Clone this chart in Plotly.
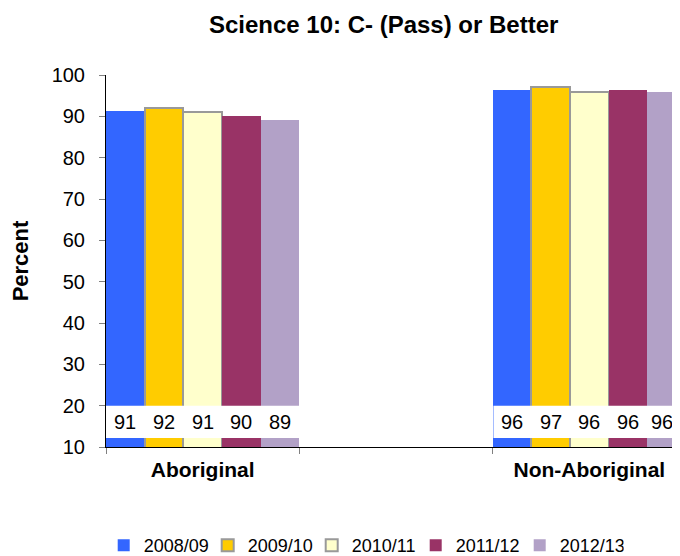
import plotly.graph_objects as go

categories = ["Aboriginal", " ", "Non-Aboriginal"]
series_names = ["2008/09", "2009/10", "2010/11", "2011/12", "2012/13"]
aboriginal = [91.4, 92.0, 91.1, 90.2, 89.0]
non_aboriginal = [96.3, 97.0, 96.0, 96.3, 95.9]
aboriginal_labels = ["91", "92", "91", "90", "89"]
non_aboriginal_labels = ["96", "97", "96", "96", "96"]
y_ticks = [10, 20, 30, 40, 50, 60, 70, 80, 90, 100]

colors = ["#3366FF", "#FFCC00", "#FFFFCC", "#993366", "#B2A1C7"]
border_colors = ["#3366FF", "#999999", "#999999", "#993366", "#B2A1C7"]
border_widths = [0, 2, 2, 0, 0]

FONT = "Liberation Sans, Arial, sans-serif"

# page body has an 8px margin, so the figure is sized to the remaining window
W, H = 672, 548

fig = go.Figure()
for i, name in enumerate(series_names):
    fig.add_trace(go.Bar(
        x=categories,
        y=[aboriginal[i], None, non_aboriginal[i]],
        name=name,
        marker=dict(color=colors[i], line=dict(color=border_colors[i], width=border_widths[i])),
        hoverinfo="skip",
    ))

n = len(series_names)
bar_w = 1.0 / n
shapes = []
annotations = []
for gi, (vals, labels) in enumerate([(aboriginal, aboriginal_labels), (non_aboriginal, non_aboriginal_labels)]):
    center = 0 if gi == 0 else 2
    x0 = center - 0.5 - (0.006 if gi == 0 else -0.004)
    shapes.append(dict(type="rect", xref="x", yref="y", x0=x0, x1=center + 0.5,
                       y0=12.2, y1=20, fillcolor="white", line=dict(width=0), layer="above"))
    for i, lab in enumerate(labels):
        last = (gi == 1 and i == n - 1)
        annotations.append(dict(x=center - 0.5 + bar_w * (i + 0.5), y=16, xref="x", yref="y",
                                text=lab, showarrow=False, yanchor="middle",
                                xshift=-5 if last else 0,
                                font=dict(size=20, color="black", family=FONT)))

fig.update_layout(
    width=W, height=H,
    margin=dict(l=98, r=0, t=67, b=109, autoexpand=False),
    paper_bgcolor="white", plot_bgcolor="white",
    barmode="group", bargap=0, bargroupgap=0,
    font=dict(family=FONT, color="black"),
    title=dict(text="<b>Science 10: C- (Pass) or Better</b>", x=0.559, xanchor="center",
               y=1 - 17 / H, yanchor="middle", yref="container",
               font=dict(size=24, color="black", family=FONT)),
    showlegend=True,
    legend=dict(orientation="h", x=-0.004, xanchor="left", y=-0.265, yanchor="middle",
                font=dict(size=18, color="black", family=FONT),
                itemwidth=30, entrywidth=59, entrywidthmode="pixels",
                traceorder="normal", bgcolor="rgba(0,0,0,0)"),
    shapes=shapes,
    annotations=annotations,
)
fig.update_xaxes(
    type="category", categoryorder="array", categoryarray=categories,
    range=[-0.5, 2.5 - 6 / 193.5], tickson="boundaries", ticks="outside", ticklen=6,
    tickcolor="#808080", showline=True, linecolor="black", linewidth=1,
    showgrid=False, zeroline=False, automargin=False,
    tickfont=dict(size=21, color="black", family=FONT, weight="bold"),
    ticklabelstandoff=4,
)
fig.update_yaxes(
    range=[10, 100], tickvals=y_ticks, ticks="outside", ticklen=6, tickcolor="#808080",
    showline=True, linecolor="black", linewidth=1, showgrid=False, zeroline=False,
    automargin=False,
    tickfont=dict(size=20, color="black", family=FONT),
    ticklabelstandoff=10,
    title=dict(text="<b>Percent</b>", font=dict(size=22, color="black", family=FONT), standoff=18),
)

fig.write_html("out.html")
